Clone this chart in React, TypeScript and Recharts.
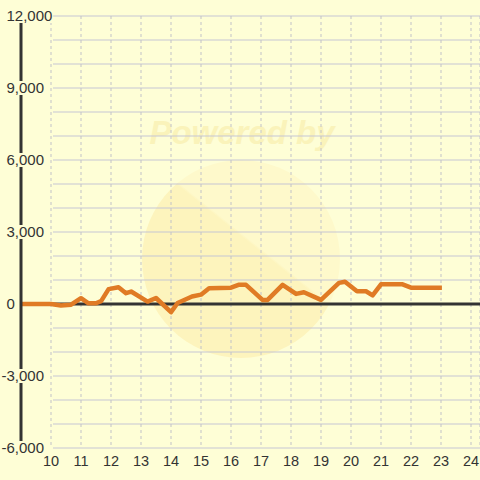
import { LineChart, Line, XAxis, YAxis, CartesianGrid, ReferenceLine } from 'recharts'

const xValues = [
  9, 10, 10.33, 10.67, 11, 11.25, 11.5, 11.67, 11.92, 12.25, 12.5, 12.67, 13.22, 13.5, 14, 14.22,
  14.7, 15, 15.27, 16, 16.25, 16.5, 17.05, 17.22, 17.72, 18.17, 18.43, 19, 19.6, 19.8, 20.2, 20.5,
  20.72, 21, 21.72, 22, 23.03
]
const yValues = [
  0, 0, -60, -30, 240, 30, 30, 120, 620, 700, 450, 520, 100, 250, -340, 40,
  310, 390, 660, 680, 800, 800, 170, 170, 800, 420, 490, 170, 880, 930, 530, 530,
  360, 820, 820, 680, 680
]
const xTicks = [10, 11, 12, 13, 14, 15, 16, 17, 18, 19, 20, 21, 22, 23, 24]
const yTicks = [-6000, -5000, -4000, -3000, -2000, -1000, 0, 1000, 2000, 3000, 4000, 5000, 6000, 7000, 8000, 9000, 10000, 11000, 12000]

const BG = '#FEFED6'
const FONT = '"Liberation Sans", Arial, sans-serif'

const chartData = xValues.map((x, i) => ({ x, v: yValues[i] }))

const YTick = (props: any) => {
  const { y, payload } = props
  const v = payload.value as number
  if (v % 3000 !== 0) return <g />
  const label = v.toLocaleString('en-US')
  const w = label.split('').reduce((s, c) => s + (c === ',' ? 4.2 : c === '-' ? 5 : 8.3), 0)
  const x0 = v < 0 ? 1.5 : 6.5
  return (
    <g>
      <rect x={x0 - 1} y={y - 7} width={w + 2} height={14} fill={BG} />
      <text x={x0} y={y} dy="0.36em" textAnchor="start" fill="#333" fontSize={15} fontFamily={FONT}>
        {label}
      </text>
    </g>
  )
}

// horizontal grid lines start right of the labels
const hLine = (p: any) => (
  <line key={p.key} x1={53} y1={p.y1} x2={p.x2} y2={p.y2} stroke="#C6C6D4" strokeWidth={1.2} />
)
const vLine = (p: any) => (
  <line key={p.key} x1={p.x1} y1={p.y1} x2={p.x2} y2={p.y2} stroke="#C2C2C8" strokeDasharray="3 3" />
)

export default function App() {
  return (
    <div style={{ position: 'absolute', left: 0, top: 0, width: 480, height: 480, background: BG, overflow: 'hidden' }}>
      {/* watermark */}
      <svg width={480} height={480} style={{ position: 'absolute', left: 0, top: 0 }}>
        <defs>
          <linearGradient id="wm" x1="0" y1="1" x2="0.8" y2="0">
            <stop offset="62%" stopColor="#FDF4BD" />
            <stop offset="63%" stopColor="#FEF9CB" />
          </linearGradient>
        </defs>
        <circle cx={241} cy={259} r={99} fill="url(#wm)" />
        <text x={242} y={144} textAnchor="middle" fontSize={33} fontWeight="bold" fontStyle="italic" fill="#FAF3BA" fontFamily={FONT}>
          Powered by
        </text>
      </svg>
      <div style={{ position: 'absolute', left: 0, top: 0 }}>
        <LineChart width={480} height={480} data={chartData} margin={{ top: 16, right: 0, bottom: 0, left: 0 }}>
          <CartesianGrid horizontal={hLine} vertical={vLine} />
          <XAxis
            dataKey="x"
            type="number"
            domain={[9, 24.3]}
            ticks={xTicks}
            allowDataOverflow
            axisLine={false}
            tickLine={false}
            height={32}
            interval={0}
            tick={{ fill: '#333', fontSize: 14.5, fontFamily: FONT }}
          />
          <YAxis
            type="number"
            domain={[-6000, 12000]}
            ticks={yTicks}
            interval={0}
            width={21}
            axisLine={{ stroke: '#333', strokeWidth: 3 }}
            tickLine={false}
            tick={(p: any) => <YTick {...p} />}
          />
          <ReferenceLine y={0} stroke="#333" strokeWidth={3} />
          <Line
            type="linear"
            dataKey="v"
            stroke="#E07B25"
            strokeWidth={4.5}
            strokeLinejoin="round"
            dot={false}
            activeDot={false}
            isAnimationActive={false}
          />
        </LineChart>
      </div>
    </div>
  )
}
